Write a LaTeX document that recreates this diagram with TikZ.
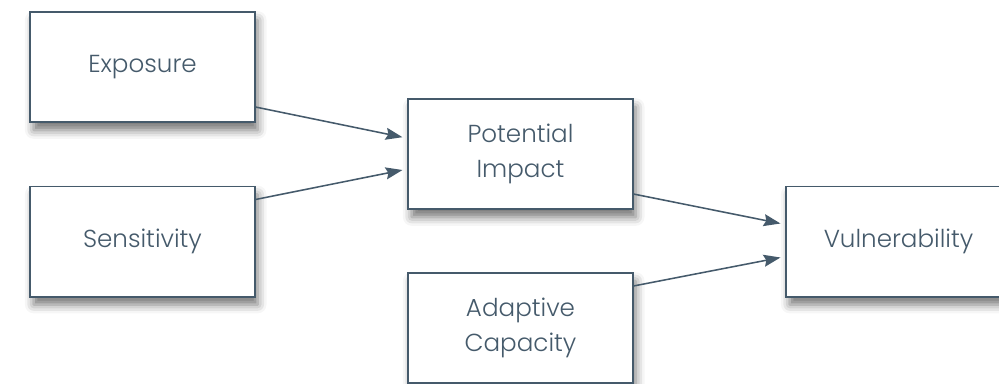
\documentclass[tikz,border=0pt]{standalone}
\usepackage{fontspec}
\setmainfont{Poppins}[UprightFont=* Light]
\usepackage{tikz}
\usetikzlibrary{arrows.meta,shadows.blur}
\definecolor{slate}{HTML}{455A6B}
\begin{document}
\begin{tikzpicture}[x=0.025cm,y=-0.025cm]
\tikzstyle{factor}=[draw=slate,line width=1.4pt,fill=white,text=slate,
	minimum width=5.6cm,minimum height=2.75cm,align=center,
	font=\fontsize{17.5}{25}\selectfont,
	blur shadow={shadow xshift=0.08cm,shadow yshift=-0.2cm,shadow blur radius=0.22cm,shadow opacity=55}];
\tikzstyle{link}=[draw=slate,line width=1.1pt,-{Stealth[length=0.42cm,width=0.3cm,inset=0.06cm]}];
\useasboundingbox (0,0) rectangle (999,383);
\node[factor] (expo) at (142.5,67) {Exposure};
\node[factor] (sens) at (142.5,241.5) {Sensitivity};
\node[factor] (pot) at (520.5,154) {Potential\\Impact};
\node[factor] (adap) at (520.5,328) {Adaptive\\Capacity};
\node[factor] (vuln) at (898.5,241.5) {Vulnerability};
\draw[link] ([yshift=-1cm]expo.east) -- ([xshift=-0.125cm,yshift=0.42cm]pot.west);
\draw[link] ([yshift=1.05cm]sens.east) -- ([xshift=-0.125cm,yshift=-0.4cm]pot.west);
\draw[link] ([yshift=-1cm]pot.east) -- ([xshift=-0.125cm,yshift=0.45cm]vuln.west);
\draw[link] ([yshift=1.05cm]adap.east) -- ([xshift=-0.125cm,yshift=-0.4cm]vuln.west);
\end{tikzpicture}
\end{document}
